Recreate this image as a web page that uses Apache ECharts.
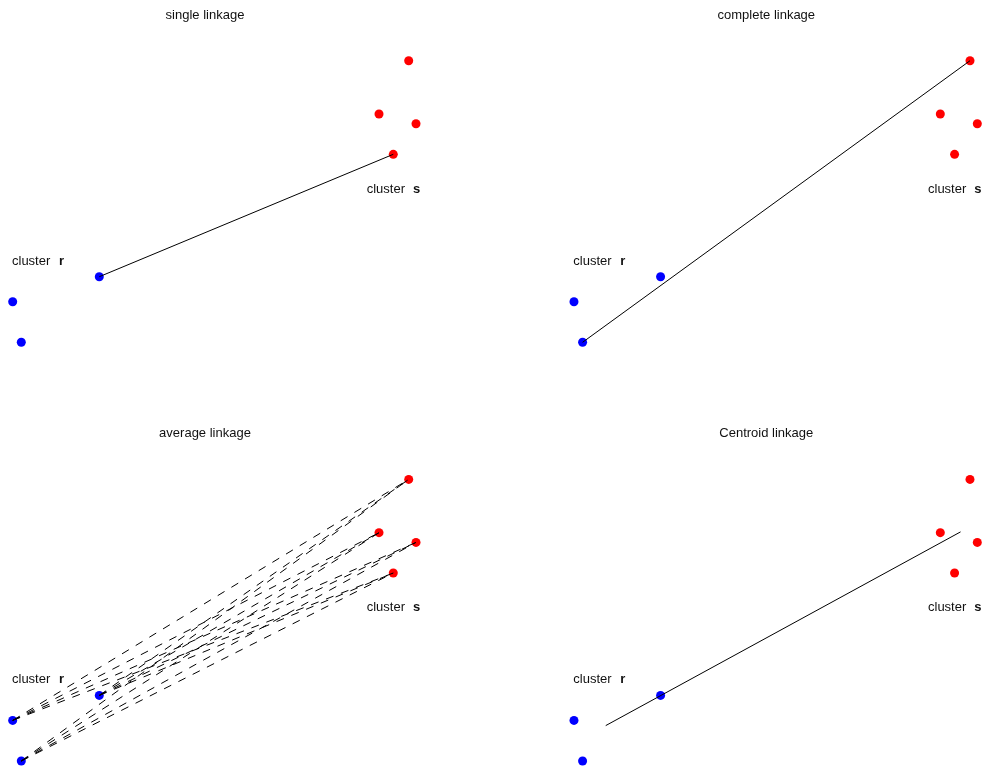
<!DOCTYPE html>
<html>
<head>
<meta charset="utf-8">
<script src="https://cdn.jsdelivr.net/npm/echarts@6/dist/echarts.min.js"></script>
<style>
html,body{margin:0;padding:0;background:#fff;}
#chart{width:984px;height:770px;}
</style>
</head>
<body>
<div id="chart"></div>
<script>
// Cluster r (blue) and cluster s (red) point coordinates
const blueX = [2.364, 0.302, 0.507];
const blueY = [2.443, 1.610, 0.257];
const redX = [9.731, 9.024, 9.905, 9.364];
const redY = [9.643, 7.867, 7.543, 6.523];
const panelTitles = ['single linkage', 'complete linkage', 'average linkage', 'Centroid linkage'];
const clusterNames = ['r', 's'];

const FONT = '"Liberation Sans", Arial, Helvetica, sans-serif';
const chart = echarts.init(document.getElementById('chart'));

const PW = 420, PH = 300;
const colOff = [0, 561.3];
const rowOff = [50, 468.7];

const blue = blueX.map((x, i) => [x, blueY[i]]);
const red = redX.map((x, i) => [x, redY[i]]);

function centroid(pts) {
  const n = pts.length;
  return [pts.reduce((s, p) => s + p[0], 0) / n, pts.reduce((s, p) => s + p[1], 0) / n];
}

const grids = [], xAxes = [], yAxes = [], series = [], graphics = [];
for (let k = 0; k < 4; k++) {
  const c = k % 2, r = Math.floor(k / 2);
  grids.push({ left: colOff[c], top: rowOff[r], width: PW, height: PH, containLabel: false });
  xAxes.push({ gridIndex: k, type: 'value', min: 0, max: 10, show: false });
  yAxes.push({ gridIndex: k, type: 'value', min: 0, max: 10, show: false });
  series.push({
    type: 'scatter', xAxisIndex: k, yAxisIndex: k, data: blue, symbolSize: 9,
    itemStyle: { color: '#0000ff', opacity: 1 }, silent: true, clip: false, z: 2
  });
  series.push({
    type: 'scatter', xAxisIndex: k, yAxisIndex: k, data: red, symbolSize: 9,
    itemStyle: { color: '#ff0000', opacity: 1 }, silent: true, clip: false, z: 2
  });
  let segs = [];
  let dashed = false;
  if (k === 0) {
    segs = [[blue[0], red[3]]];
  } else if (k === 1) {
    segs = [[blue[2], red[0]]];
  } else if (k === 2) {
    dashed = true;
    blue.forEach(b => red.forEach(rr => segs.push([b, rr])));
  } else {
    segs = [[centroid(blue), centroid(red)]];
  }
  series.push({
    type: 'lines', coordinateSystem: 'cartesian2d', xAxisIndex: k, yAxisIndex: k,
    data: segs.map(s => ({ coords: s })),
    lineStyle: { color: '#000', width: 1, type: dashed ? [8, 8] : 'solid', opacity: 1 },
    silent: true, z: 3
  });
  const ox = colOff[c], oy = rowOff[r] - 50;
  graphics.push({
    type: 'text', x: ox + 205, y: oy + 15,
    style: { text: panelTitles[k], font: '13px ' + FONT, fill: '#111', align: 'center', verticalAlign: 'middle' }
  });
  graphics.push({
    type: 'text', x: ox + 12, y: oy + 261,
    style: { text: 'cluster', font: '13px ' + FONT, fill: '#111', align: 'left', verticalAlign: 'middle' }
  });
  graphics.push({
    type: 'text', x: ox + 59, y: oy + 261,
    style: { text: clusterNames[0], font: 'bold 13px ' + FONT, fill: '#111', align: 'left', verticalAlign: 'middle' }
  });
  graphics.push({
    type: 'text', x: ox + 366.7, y: oy + 189,
    style: { text: 'cluster', font: '13px ' + FONT, fill: '#111', align: 'left', verticalAlign: 'middle' }
  });
  graphics.push({
    type: 'text', x: ox + 413, y: oy + 189,
    style: { text: clusterNames[1], font: 'bold 13px ' + FONT, fill: '#111', align: 'left', verticalAlign: 'middle' }
  });
}

chart.setOption({
  backgroundColor: '#fff',
  animation: false,
  grid: grids,
  xAxis: xAxes,
  yAxis: yAxes,
  series: series,
  graphic: graphics
});
</script>
</body>
</html>
